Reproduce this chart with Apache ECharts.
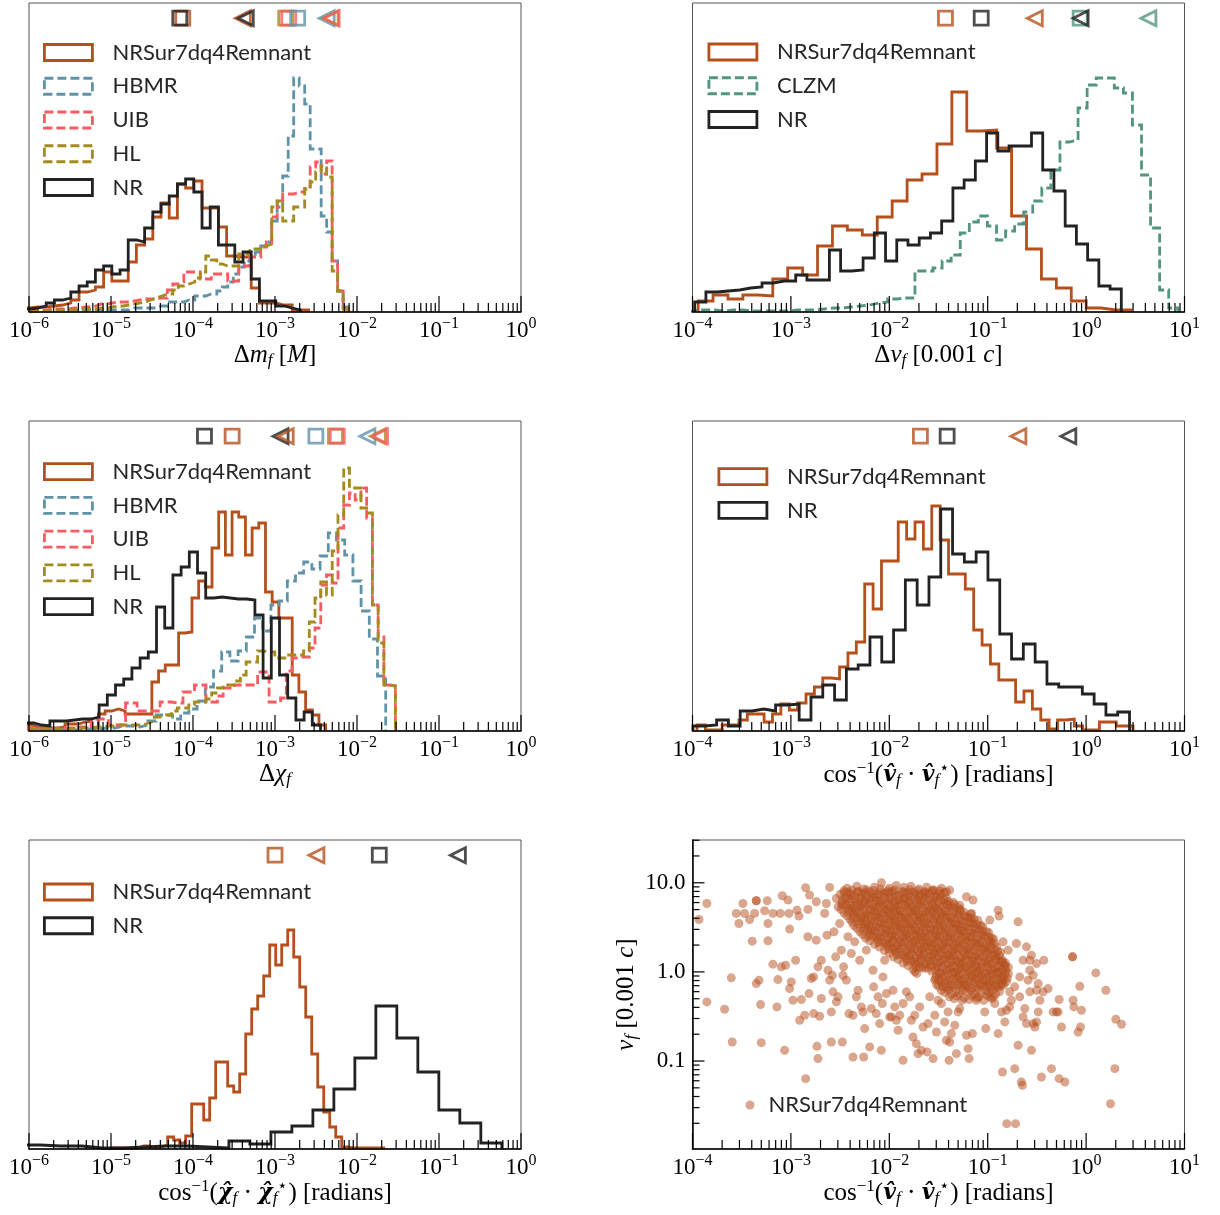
<!DOCTYPE html>
<html>
<head>
<meta charset="utf-8">
<script src="https://cdn.jsdelivr.net/npm/echarts@6.0.0/dist/echarts.min.js"></script>
<style>html,body{margin:0;padding:0;background:#fff;}#chart{width:1220px;height:1215px;}</style>
</head>
<body>
<div id="chart"></div>
<script>
// ---------------- DATA ----------------
// Histograms: lo = log10 of first bin edge, w = log10 bin width, h = bin heights (arbitrary units)
// Panel 1: Δm_f
const mf_NRSur = {lo:-6.19, w:0.1, h:[4,4,5,5,6,7,9,12,20,22,25,40,31,31,50,67,73,95,109,94,128,124,131,104,104,85,56,55,55,24,9,9,7,7,2,2]};
const mf_NR    = {lo:-6.19, w:0.1, h:[3,3,4,6,9,12,14,20,26,30,42,46,38,42,72,70,84,100,108,116,128,133,120,84,105,67,67,50,60,33,11,11,6,4,2]};
const mf_HBMR  = {lo:-5.988, w:0.067, h:[1,1,1,1,1,1,1,1,1,1,2,2,2,2,2,2,2,2,4,4,4,4,4,6,6,10,10,10,12,12,16,16,18,18,21,25,30,38,45,51,55,60,66,70,91,105,136,176,234,226,208,163,163,96,80,51,21,5]};
const mf_UIB   = {lo:-5.988, w:0.067, h:[2,2,2,3,3,3,3,4,4,5,5,6,8,8,9,10,10,10,11,12,13,13,13,14,14,22,28,30,40,40,40,33,33,38,38,38,31,31,46,46,55,55,65,70,95,111,118,118,120,120,125,145,150,138,151,51,21,3]};
const mf_HL    = {lo:-5.988, w:0.067, h:[1,1,1,2,2,2,2,2,3,3,3,3,4,4,5,6,6,7,8,9,10,12,14,16,18,18,22,26,28,30,34,40,56,52,48,46,46,46,58,58,63,63,66,68,105,111,91,91,105,105,123,130,140,146,135,41,21,3]};
// Panel 2: Δv_f
const vf_NRSur = {lo:-3.943, w:0.1517, h:[11,17,13,17,16,33,44,37,66,86,82,77,95,111,132,138,168,220,181,182,164,96,63,33,24,11,4,2,2]};
const vf_NR    = {lo:-3.978, w:0.1141, h:[10,20,21,22,24,25,29,31,31,37,32,32,62,41,42,54,79,51,72,67,74,79,91,124,132,151,179,161,166,166,179,142,121,86,68,52,26,23]};
const vf_CLZM  = {lo:-4.042, w:0.0921, h:[2,2,2,1,2,2,1,1,1,1,1,2,2,2,3,4,4,5,6,7,9,10,13,14,14,41,41,44,51,57,79,90,96,86,72,81,88,100,111,124,142,170,172,204,227,234,234,224,219,187,137,84,22,4]};
// Panel 3: Δχ_f
const chi_NRSur = {lo:-6.05, w:0.0815, h:[6,4,3,3,3,4,7,7,9,10,3,17,20,22,20,17,17,17,17,49,60,66,66,98,99,133,150,144,183,219,176,219,214,176,203,208,139,129,113,113,56,39,21,16,6]};
const chi_NR    = {lo:-6.045, w:0.1, h:[8,6,5,10,10,11,12,12,14,26,36,46,52,63,73,79,124,103,156,164,179,158,133,134,133,132,132,131,116,53,113,56,33,11,19,6]};
const chi_HBMR  = {lo:-6.05, w:0.1, h:[3,2,2,2,1,1,1,2,2,3,3,5,5,4,6,10,16,16,12,18,22,30,44,60,79,70,80,94,113,100,126,130,150,158,169,162,175,198,191,176,150,120,92,55]};
const chi_UIB   = {lo:-6.012, w:0.07, h:[3,2,2,2,2,3,3,3,4,4,5,12,12,12,6,6,6,28,28,20,20,20,20,29,29,28,28,39,39,46,46,29,29,35,43,43,46,46,46,46,59,59,29,29,33,60,73,74,74,83,103,146,156,148,203,226,238,231,243,213,126,94,46,45]};
const chi_HL    = {lo:-6.012, w:0.07, h:[2,2,2,2,2,2,2,3,3,3,3,4,4,5,5,6,6,6,6,6,8,10,14,16,16,20,23,23,26,29,29,32,38,43,46,46,50,56,69,69,80,79,79,73,73,76,76,76,80,109,133,149,136,180,216,263,243,243,223,218,126,88,46,45]};
// Panel 4: kick direction error
const kd_NRSur = {lo:-3.954, w:0.0852, h:[6,1,1,6,6,11,17,17,9,17,27,21,28,37,44,53,52,64,78,89,147,122,170,170,209,192,209,182,225,191,157,157,142,101,86,67,51,51,29,40,22,11,2,11,12,5,1,1,9,9,5,5]};
const kd_NR    = {lo:-3.995, w:0.1199, h:[5,6,11,5,20,22,20,26,27,11,34,46,31,62,66,94,69,101,151,126,154,222,177,169,179,151,97,72,87,69,47,44,44,37,27,16,19]};
// Panel 5: spin direction error
const sd_NRSur = {lo:-5.041, w:0.0732, h:[1,1,1,1,1,3,3,1,2,4,12,9,6,13,45,45,29,51,87,87,63,57,75,115,140,153,173,204,184,204,219,192,162,132,95,62,37,22,12,2,1,1,1,1,1,1]};
const sd_NR    = {lo:-6.122, w:0.256, h:[4,3,3,1,1,2,3,3,2,1,8,5,17,23,39,60,91,143,111,77,39,26,6]};

// Summary markers (square = median, left triangle = upper percentile)
const mf_med  = {NRSur:7.5e-5, NR:6.9e-5, HL:1.35e-3, UIB:1.47e-3, HBMR:1.89e-3};
const mf_p95  = {NRSur:4.05e-4, NR:4.4e-4, HBMR:4.27e-3, HL:4.77e-3, UIB:4.9e-3};
const vf_med  = {NRSur:0.0372, NR:0.0859, CLZM:0.87};
const vf_p95  = {NRSur:0.301, CLZM:4.3, NR:0.88};
const chi_med = {NR:1.38e-4, NRSur:3.0e-4, HBMR:3.15e-3, HL:5.46e-3, UIB:5.75e-3};
const chi_p95 = {NR:1.17e-3, NRSur:1.35e-3, HBMR:0.0134, HL:0.018, UIB:0.0191};
const kd_med  = {NRSur:0.0207, NR:0.0387};
const kd_p95  = {NRSur:0.205, NR:0.66};
const sd_med  = {NRSur:1.0e-3, NR:0.0187};
const sd_p95  = {NRSur:3.2e-3, NR:0.17};

// Scatter: [log10 kick-direction error (rad), log10 v_f (0.001 c)]
const kickScatterLog10 = [
[-3.935,0.588],[-3.854,0.768],[-3.854,-0.337],[-3.674,-0.419],[-3.606,-0.067],[-3.596,-0.786],[-3.555,0.656],[-3.528,0.543],[-3.488,0.768],[-3.471,0.656],
[-3.420,0.588],[-3.393,0.345],[-3.369,0.656],[-3.352,0.798],[-3.352,0.798],[-3.352,-0.131],[-3.325,-0.093],[-3.308,-0.367],[-3.301,-0.794],[-3.267,0.686],
[-3.240,0.798],[-3.233,0.543],[-3.233,0.349],[-3.183,0.087],[-3.183,0.656],[-3.142,-0.393],[-3.132,-0.086],[-3.108,0.656],[-3.098,0.057],[-3.088,0.854],
[-3.064,-0.880],[-3.054,0.075],[-3.030,0.806],[-3.020,0.656],[-3.013,0.480],[-3.013,-0.187],[-2.996,-0.112],[-2.979,-0.318],[-2.952,0.131],[-2.938,0.693],
[-2.918,0.626],[-2.911,-0.543],[-2.894,-0.310],[-2.860,-0.486],[-2.850,0.944],[-2.850,-1.198],[-2.827,0.701],[-2.827,0.394],[-2.816,-0.243],[-2.810,0.862],
[-2.793,-0.074],[-2.769,-0.056],[-2.769,-0.468],[-2.742,0.787],[-2.742,0.356],[-2.735,-0.835],[-2.725,-0.973],[-2.725,0.057],[-2.708,-0.498],[-2.691,-0.299],
[-2.691,0.131],[-2.657,0.656],[-2.640,0.768],[-2.633,0.412],[-2.623,0.019],[-2.606,0.948],[-2.606,-0.093],[-2.589,-0.786],[-2.589,-0.449],[-2.579,-0.037],
[-2.572,-0.224],[-2.562,0.450],[-2.545,0.169],[-2.538,0.824],[-2.538,-0.337],[-2.521,-0.280],[-2.505,0.543],[-2.488,0.244],[-2.477,-0.786],[-2.471,-0.037],
[-2.464,0.057],[-2.437,-0.093],[-2.420,0.394],[-2.410,-0.468],[-2.386,0.206],[-2.369,-0.955],[-2.369,-0.486],[-2.352,0.337],[-2.335,-0.280],[-2.318,-0.206],
[-2.301,0.131],[-2.284,-0.393],[-2.267,-0.449],[-2.260,-0.955],[-2.250,-0.636],[-2.233,0.244],[-2.199,-0.842],[-2.182,-0.412],[-2.166,0.019],[-2.159,-0.168],
[-2.132,-0.468],[-2.115,-0.280],[-2.098,-0.580],[-2.081,-0.880],[-2.071,-0.355],[-2.064,-0.056],[-2.047,0.131],[-2.030,-0.243],[-1.996,-0.505],[-1.979,-0.505],
[-1.962,-0.206],[-1.945,-0.393],[-1.928,-0.543],[-1.911,-0.655],[-1.894,-0.486],[-1.860,-0.992],[-1.860,-0.355],[-1.827,-0.224],[-1.793,-0.280],[-1.776,-0.543],
[-1.759,-0.730],[-1.742,-0.486],[-1.725,-0.805],[-1.708,-0.917],[-1.691,-0.393],[-1.674,-0.880],[-1.657,-0.618],[-1.616,-0.898],[-1.606,-0.580],[-1.589,-0.280],
[-1.555,-0.973],[-1.538,-0.486],[-1.521,-0.674],[-1.504,-0.318],[-1.471,-0.355],[-1.437,-0.561],[-1.420,-0.767],[-1.403,-0.449],[-1.393,-0.992],[-1.386,-0.786],
[-1.369,-0.692],[-1.335,-0.599],[-1.318,-0.917],[-1.301,-0.449],[-1.284,-0.412],[-1.216,-0.711],[-1.199,-0.861],[-1.189,-0.973],[-1.155,-0.692],[-1.115,-0.318],
[-1.030,-0.449],[-1.020,-0.636],[-0.979,-0.280],[-0.928,-0.355],[-0.894,-0.692],[-0.860,-0.449],[-0.850,-1.123],[-0.826,-0.561],[-0.810,-0.430],[-0.776,-0.224],
[-0.759,-0.318],[-0.725,-1.086],[-0.691,-0.823],[-0.691,0.562],[-0.674,-0.280],[-0.657,-1.235],[-0.647,-1.273],[-0.640,-0.505],[-0.623,-0.412],[-0.606,-0.580],
[-0.572,-0.224],[-0.555,-0.880],[-0.538,-0.580],[-0.521,-0.618],[-0.504,-0.561],[-0.487,-0.449],[-0.470,-0.318],[-0.454,-1.179],[-0.437,-0.224],[-0.430,0.131],
[-0.386,-0.187],[-0.352,-1.086],[-0.335,-0.449],[-0.301,-0.449],[-0.284,-0.449],[-0.274,-0.310],[-0.274,-1.198],[-0.250,-0.618],[-0.216,-1.235],[-0.138,0.169],
[-0.138,0.169],[-0.132,-0.318],[-0.125,-0.393],[-0.081,-0.674],[-0.064,-0.161],[-0.057,-0.618],[-0.047,-0.430],[0.099,-0.011],[0.201,-0.206],[0.292,-1.086],
[0.302,-0.531],[0.360,-0.587],[-0.806,-1.703],[-0.717,-1.703],[0.248,-1.479],
[-1.149,0.806],[-1.165,0.656],[-0.979,0.581],[-0.894,0.693],[-0.884,0.626],[-1.420,0.899],[-1.386,0.918],[-1.216,0.843],[-1.284,0.749],[-0.843,0.337],
[-0.793,0.244],[-0.606,0.281],[-0.572,0.131],[-0.555,0.188],[-0.504,0.094],[-0.572,0.019],[-0.538,-0.037],[-0.487,-0.131],[-0.674,-0.056],[-0.725,-0.168],
[-0.708,0.319],[-0.640,0.131],[-0.589,-0.093],[-0.504,-0.206],[-0.776,-0.393],
[-2.43,0.94],[-2.33,0.96],[-2.26,0.93],[-2.15,0.95],[-2.08,1.00],[-2.00,0.94],[-1.93,0.97],[-1.85,0.95],[-1.78,0.96],[-1.70,0.93],[-1.62,0.95],[-1.55,0.92],[-1.47,0.94],
[-2.50,0.87],[-2.42,0.89],[-2.36,0.86],[-2.28,0.88],[-2.20,0.90],[-2.12,0.87],[-2.05,0.88],[-1.97,0.90],[-1.90,0.86],[-1.83,0.88],[-1.75,0.89],[-1.68,0.87],[-1.60,0.88],[-1.52,0.86],[-1.44,0.89],
[-2.48,0.80],[-2.40,0.82],[-2.31,0.79],[-2.24,0.81],[-2.17,0.83],[-2.09,0.80],[-2.01,0.81],[-1.94,0.79],[-1.86,0.82],[-1.79,0.80],[-1.71,0.81],[-1.64,0.83],[-1.56,0.80],[-1.48,0.81],[-1.40,0.79],
[-2.52,0.73],[-2.44,0.75],[-2.37,0.72],[-2.29,0.74],[-2.21,0.76],[-2.13,0.73],[-2.06,0.74],[-1.99,0.72],[-1.91,0.75],[-1.83,0.74],[-1.76,0.73],[-1.68,0.75],[-1.60,0.74],[-1.53,0.72],[-1.45,0.75],[-1.37,0.74],[-1.30,0.72],
[-2.46,0.66],[-2.38,0.68],[-2.30,0.67],[-2.23,0.65],[-2.15,0.68],[-2.08,0.66],[-2.00,0.67],[-1.92,0.69],[-1.85,0.66],[-1.77,0.67],[-1.70,0.65],[-1.62,0.68],[-1.55,0.67],[-1.47,0.66],[-1.39,0.68],[-1.31,0.66],[-1.24,0.67],
[-2.40,0.59],[-2.33,0.61],[-2.25,0.60],[-2.18,0.58],[-2.10,0.61],[-2.02,0.60],[-1.95,0.59],[-1.88,0.61],[-1.80,0.60],[-1.72,0.58],[-1.65,0.61],[-1.57,0.60],[-1.49,0.59],[-1.42,0.61],[-1.34,0.60],[-1.27,0.58],[-1.19,0.61],[-1.14,0.59],
[-2.36,0.52],[-2.27,0.54],[-2.20,0.53],[-2.13,0.51],[-2.05,0.54],[-1.97,0.53],[-1.90,0.52],[-1.83,0.54],[-1.75,0.53],[-1.67,0.51],[-1.60,0.54],[-1.52,0.53],[-1.45,0.52],[-1.37,0.54],[-1.29,0.53],[-1.22,0.51],[-1.14,0.54],[-1.07,0.52],
[-2.30,0.45],[-2.22,0.47],[-2.15,0.46],[-2.07,0.44],[-1.99,0.47],[-1.92,0.46],[-1.84,0.45],[-1.77,0.47],[-1.69,0.46],[-1.62,0.44],[-1.54,0.47],[-1.47,0.46],[-1.39,0.45],[-1.31,0.47],[-1.24,0.46],[-1.16,0.44],[-1.09,0.47],[-1.01,0.45],
[-2.24,0.38],[-2.17,0.40],[-2.09,0.39],[-2.01,0.37],[-1.94,0.40],[-1.86,0.39],[-1.79,0.38],[-1.71,0.40],[-1.64,0.39],[-1.56,0.37],[-1.49,0.40],[-1.41,0.39],[-1.34,0.38],[-1.26,0.40],[-1.18,0.39],[-1.11,0.37],[-1.03,0.40],[-0.96,0.38],
[-2.15,0.31],[-2.07,0.33],[-1.99,0.32],[-1.92,0.30],[-1.84,0.33],[-1.76,0.32],[-1.69,0.31],[-1.61,0.33],[-1.54,0.32],[-1.46,0.30],[-1.39,0.33],[-1.31,0.32],[-1.24,0.31],[-1.16,0.33],[-1.08,0.32],[-1.01,0.30],[-0.93,0.32],
[-2.05,0.24],[-1.97,0.26],[-1.90,0.25],[-1.82,0.23],[-1.74,0.26],[-1.67,0.25],[-1.59,0.24],[-1.52,0.26],[-1.44,0.25],[-1.36,0.23],[-1.29,0.26],[-1.21,0.25],[-1.14,0.24],[-1.06,0.26],[-0.98,0.25],[-0.90,0.23],
[-1.96,0.17],[-1.88,0.19],[-1.80,0.18],[-1.73,0.16],[-1.65,0.19],[-1.57,0.18],[-1.50,0.17],[-1.42,0.19],[-1.35,0.18],[-1.27,0.16],[-1.19,0.19],[-1.12,0.18],[-1.04,0.17],[-0.96,0.19],[-0.88,0.18],
[-1.86,0.10],[-1.78,0.12],[-1.70,0.11],[-1.63,0.09],[-1.55,0.12],[-1.48,0.11],[-1.40,0.10],[-1.32,0.12],[-1.25,0.11],[-1.17,0.09],[-1.10,0.12],[-1.02,0.11],[-0.95,0.10],[-0.87,0.12],[-0.82,0.10],
[-1.76,0.03],[-1.69,0.05],[-1.61,0.04],[-1.53,0.02],[-1.46,0.05],[-1.38,0.04],[-1.30,0.03],[-1.23,0.05],[-1.15,0.04],[-1.08,0.02],[-1.00,0.05],[-0.93,0.04],[-0.85,0.03],[-0.79,0.05],
[-1.72,-0.02],[-1.52,-0.04],[-1.44,-0.03],[-1.36,-0.01],[-1.29,-0.04],[-1.21,-0.03],[-1.13,-0.02],[-1.06,-0.04],[-0.98,-0.03],[-0.91,-0.01],[-0.84,-0.04],[-0.79,-0.02],
[-1.54,-0.09],[-1.47,-0.11],[-1.39,-0.10],[-1.31,-0.08],[-1.24,-0.11],[-1.16,-0.10],[-1.09,-0.09],[-1.01,-0.11],[-0.94,-0.10],[-0.86,-0.08],[-0.81,-0.11],
[-1.50,-0.16],[-1.42,-0.18],[-1.35,-0.17],[-1.27,-0.15],[-1.20,-0.18],[-1.12,-0.17],[-1.04,-0.16],[-0.97,-0.18],[-0.89,-0.17],[-0.84,-0.15],
[-1.44,-0.23],[-1.37,-0.25],[-1.29,-0.24],[-1.22,-0.22],[-1.14,-0.25],[-1.07,-0.24],[-0.99,-0.23],[-0.92,-0.25],
[-1.34,-0.30],[-1.26,-0.32],[-1.19,-0.31],[-1.11,-0.29],[-1.04,-0.32],[-0.96,-0.30],
[-2.46,0.91],[-2.38,0.92],[-2.31,0.90],[-2.23,0.92],[-2.16,0.91],[-2.09,0.93],[-2.01,0.91],[-1.94,0.92],[-1.86,0.90],[-1.79,0.92],[-1.71,0.91],[-1.64,0.90],[-1.56,0.92],[-1.49,0.91],
[-2.45,0.84],[-2.38,0.85],[-2.30,0.83],[-2.23,0.85],[-2.15,0.84],[-2.08,0.86],[-2.00,0.84],[-1.93,0.85],[-1.85,0.83],[-1.78,0.85],[-1.70,0.84],[-1.63,0.86],[-1.55,0.84],[-1.48,0.85],[-1.42,0.83],
[-2.48,0.77],[-2.40,0.78],[-2.33,0.76],[-2.25,0.78],[-2.18,0.77],[-2.10,0.79],[-2.03,0.77],[-1.95,0.78],[-1.88,0.76],[-1.80,0.78],[-1.72,0.77],[-1.65,0.79],[-1.57,0.77],[-1.50,0.78],[-1.42,0.76],[-1.35,0.78],
[-2.49,0.70],[-2.41,0.71],[-2.34,0.69],[-2.26,0.71],[-2.19,0.70],[-2.11,0.72],[-2.04,0.70],[-1.96,0.71],[-1.89,0.69],[-1.81,0.71],[-1.73,0.70],[-1.66,0.72],[-1.58,0.70],[-1.51,0.71],[-1.43,0.69],[-1.35,0.71],[-1.28,0.70],
[-2.43,0.63],[-2.36,0.64],[-2.28,0.62],[-2.21,0.64],[-2.13,0.63],[-2.06,0.65],[-1.98,0.63],[-1.91,0.64],[-1.83,0.62],[-1.76,0.64],[-1.68,0.63],[-1.61,0.65],[-1.53,0.63],[-1.46,0.64],[-1.38,0.62],[-1.30,0.64],[-1.23,0.63],[-1.17,0.65],
[-2.38,0.56],[-2.30,0.57],[-2.23,0.55],[-2.15,0.57],[-2.08,0.56],[-2.00,0.58],[-1.93,0.56],[-1.85,0.57],[-1.78,0.55],[-1.70,0.57],[-1.63,0.56],[-1.55,0.58],[-1.48,0.56],[-1.40,0.57],[-1.33,0.55],[-1.25,0.57],[-1.18,0.56],[-1.10,0.58],
[-2.33,0.49],[-2.25,0.50],[-2.18,0.48],[-2.10,0.50],[-2.03,0.49],[-1.95,0.51],[-1.88,0.49],[-1.80,0.50],[-1.73,0.48],[-1.65,0.50],[-1.58,0.49],[-1.50,0.51],[-1.43,0.49],[-1.35,0.50],[-1.28,0.48],[-1.20,0.50],[-1.12,0.49],[-1.05,0.51],
[-2.27,0.42],[-2.19,0.43],[-2.12,0.41],[-2.04,0.43],[-1.97,0.42],[-1.89,0.44],[-1.82,0.42],[-1.74,0.43],[-1.67,0.41],[-1.59,0.43],[-1.52,0.42],[-1.44,0.44],[-1.37,0.42],[-1.29,0.43],[-1.22,0.41],[-1.14,0.43],[-1.06,0.42],[-0.99,0.44],
[-2.20,0.35],[-2.12,0.36],[-2.05,0.34],[-1.97,0.36],[-1.90,0.35],[-1.82,0.37],[-1.75,0.35],[-1.67,0.36],[-1.60,0.34],[-1.52,0.36],[-1.45,0.35],[-1.37,0.37],[-1.30,0.35],[-1.22,0.36],[-1.14,0.34],[-1.07,0.36],[-0.99,0.35],[-0.94,0.37],
[-2.10,0.28],[-2.02,0.29],[-1.95,0.27],[-1.87,0.29],[-1.80,0.28],[-1.72,0.30],[-1.65,0.28],[-1.57,0.29],[-1.50,0.27],[-1.42,0.29],[-1.35,0.28],[-1.27,0.30],[-1.20,0.28],[-1.12,0.29],[-1.04,0.27],[-0.97,0.29],[-0.91,0.28],
[-2.00,0.21],[-1.93,0.22],[-1.85,0.20],[-1.78,0.22],[-1.70,0.21],[-1.63,0.23],[-1.55,0.21],[-1.48,0.22],[-1.40,0.20],[-1.33,0.22],[-1.25,0.21],[-1.18,0.23],[-1.10,0.21],[-1.02,0.22],[-0.94,0.20],[-0.87,0.22],
[-1.91,0.14],[-1.83,0.15],[-1.76,0.13],[-1.68,0.15],[-1.61,0.14],[-1.53,0.16],[-1.46,0.14],[-1.38,0.15],[-1.31,0.13],[-1.23,0.15],[-1.16,0.14],[-1.08,0.16],[-1.00,0.14],[-0.92,0.15],[-0.85,0.13],
[-1.81,0.07],[-1.73,0.08],[-1.66,0.06],[-1.58,0.08],[-1.51,0.07],[-1.43,0.09],[-1.36,0.07],[-1.28,0.08],[-1.21,0.06],[-1.13,0.08],[-1.06,0.07],[-0.98,0.09],[-0.90,0.07],[-0.83,0.08],
[-1.74,0.00],[-1.57,0.01],[-1.49,-0.01],[-1.42,0.01],[-1.34,0.00],[-1.27,0.02],[-1.19,0.00],[-1.11,0.01],[-1.04,-0.01],[-0.96,0.01],[-0.89,0.00],[-0.82,0.02],
[-1.53,-0.07],[-1.46,-0.06],[-1.38,-0.08],[-1.31,-0.06],[-1.23,-0.07],[-1.16,-0.05],[-1.08,-0.07],[-1.01,-0.06],[-0.93,-0.08],[-0.86,-0.06],[-0.80,-0.07],
[-1.52,-0.14],[-1.44,-0.13],[-1.37,-0.15],[-1.29,-0.13],[-1.22,-0.14],[-1.14,-0.12],[-1.07,-0.14],[-0.99,-0.13],[-0.92,-0.15],[-0.85,-0.13],
[-1.47,-0.21],[-1.40,-0.20],[-1.32,-0.22],[-1.25,-0.20],[-1.17,-0.21],[-1.10,-0.19],[-1.02,-0.21],[-0.95,-0.20],[-0.88,-0.22],
[-1.39,-0.28],[-1.31,-0.27],[-1.24,-0.29],[-1.16,-0.27],[-1.09,-0.28],[-1.01,-0.26],[-0.94,-0.28],
[-2.46,0.89],[-2.39,0.88],[-2.32,0.90],[-2.24,0.89],[-2.16,0.87],[-2.08,0.90],[-2.01,0.89],[-1.94,0.88],[-1.86,0.90],[-1.79,0.89],[-1.72,0.87],[-1.64,0.89],[-1.56,0.90],[-1.48,0.88],
[-2.44,0.82],[-2.35,0.81],[-2.28,0.83],[-2.20,0.82],[-2.13,0.80],[-2.05,0.83],[-1.98,0.82],[-1.90,0.81],[-1.83,0.83],[-1.75,0.82],[-1.68,0.80],[-1.60,0.82],[-1.52,0.83],[-1.44,0.81],
[-2.48,0.75],[-2.40,0.74],[-2.33,0.76],[-2.25,0.75],[-2.17,0.73],[-2.10,0.76],[-2.02,0.75],[-1.95,0.74],[-1.87,0.76],[-1.80,0.75],[-1.72,0.73],[-1.64,0.75],[-1.56,0.76],[-1.49,0.74],[-1.41,0.75],[-1.34,0.76],
[-2.42,0.68],[-2.34,0.67],[-2.27,0.69],[-2.19,0.68],[-2.12,0.66],[-2.04,0.69],[-1.96,0.68],[-1.89,0.67],[-1.81,0.69],[-1.74,0.68],[-1.66,0.66],[-1.59,0.68],[-1.51,0.69],[-1.43,0.67],[-1.35,0.68],[-1.28,0.69],
[-2.37,0.61],[-2.29,0.60],[-2.22,0.62],[-2.14,0.61],[-2.06,0.59],[-1.99,0.62],[-1.92,0.61],[-1.84,0.60],[-1.76,0.62],[-1.69,0.61],[-1.61,0.59],[-1.53,0.61],[-1.46,0.62],[-1.38,0.60],[-1.31,0.61],[-1.23,0.62],[-1.17,0.60],
[-2.32,0.54],[-2.24,0.53],[-2.17,0.55],[-2.09,0.54],[-2.01,0.52],[-1.94,0.55],[-1.87,0.54],[-1.79,0.53],[-1.71,0.55],[-1.64,0.54],[-1.56,0.52],[-1.49,0.54],[-1.41,0.55],[-1.33,0.53],[-1.26,0.54],[-1.18,0.55],[-1.11,0.53],
[-2.26,0.47],[-2.19,0.46],[-2.11,0.48],[-2.03,0.47],[-1.96,0.45],[-1.88,0.48],[-1.81,0.47],[-1.73,0.46],[-1.66,0.48],[-1.58,0.47],[-1.51,0.45],[-1.43,0.47],[-1.35,0.48],[-1.28,0.46],[-1.20,0.47],[-1.13,0.48],[-1.05,0.46],
[-2.21,0.40],[-2.13,0.39],[-2.05,0.41],[-1.98,0.40],[-1.90,0.38],[-1.83,0.41],[-1.75,0.40],[-1.68,0.39],[-1.60,0.41],[-1.53,0.40],[-1.45,0.38],[-1.38,0.40],[-1.30,0.41],[-1.22,0.39],[-1.15,0.40],[-1.07,0.41],[-0.99,0.39],
[-2.11,0.33],[-2.03,0.32],[-1.96,0.34],[-1.88,0.33],[-1.80,0.31],[-1.73,0.34],[-1.65,0.33],[-1.58,0.32],[-1.50,0.34],[-1.43,0.33],[-1.35,0.31],[-1.28,0.33],[-1.20,0.34],[-1.12,0.32],[-1.05,0.33],[-0.97,0.34],
[-2.01,0.26],[-1.94,0.25],[-1.86,0.27],[-1.78,0.26],[-1.71,0.24],[-1.63,0.27],[-1.56,0.26],[-1.48,0.25],[-1.40,0.27],[-1.33,0.26],[-1.25,0.24],[-1.18,0.26],[-1.10,0.27],[-1.02,0.25],[-0.94,0.26],
[-1.92,0.19],[-1.84,0.18],[-1.77,0.20],[-1.69,0.19],[-1.61,0.17],[-1.54,0.20],[-1.46,0.19],[-1.39,0.18],[-1.31,0.20],[-1.23,0.19],[-1.16,0.17],[-1.08,0.19],[-1.00,0.20],[-0.92,0.18],
[-1.82,0.12],[-1.74,0.11],[-1.67,0.13],[-1.59,0.12],[-1.52,0.10],[-1.44,0.13],[-1.36,0.12],[-1.29,0.11],[-1.21,0.13],[-1.14,0.12],[-1.06,0.10],[-0.99,0.12],[-0.91,0.13],[-0.85,0.11],
[-1.73,0.05],[-1.65,0.04],[-1.57,0.06],[-1.50,0.05],[-1.42,0.03],[-1.34,0.06],[-1.27,0.05],[-1.19,0.04],[-1.12,0.06],[-1.04,0.05],[-0.97,0.03],[-0.89,0.05],[-0.82,0.06],
[-1.48,-0.02],[-1.40,-0.03],[-1.33,-0.01],[-1.25,-0.02],[-1.17,-0.04],[-1.10,-0.01],[-1.02,-0.02],[-0.95,-0.03],[-0.88,-0.01],[-0.82,-0.02],
[-1.50,-0.09],[-1.43,-0.10],[-1.35,-0.08],[-1.28,-0.09],[-1.20,-0.11],[-1.13,-0.08],[-1.05,-0.09],[-0.98,-0.10],[-0.90,-0.08],[-0.84,-0.09],
[-1.46,-0.16],[-1.39,-0.17],[-1.31,-0.15],[-1.24,-0.16],[-1.16,-0.18],[-1.08,-0.15],[-1.01,-0.16],[-0.93,-0.17],[-0.87,-0.15]
];

// ---------------- STYLE ----------------
const COL = {NRSur:'#B5501D', HBMR:'#6193A8', UIB:'#FA5A62', HL:'#A38B1E', CLZM:'#519581', NR:'#222222'};
const DASHED = {HBMR:true, UIB:true, HL:true, CLZM:true};
const NAMES = {NRSur:'NRSur7dq4Remnant', HBMR:'HBMR', UIB:'UIB', HL:'HL', CLZM:'CLZM', NR:'NR'};
const SERIF = "'Liberation Serif','DejaVu Serif',serif";
const SANS = "Lato,'Open Sans','DejaVu Sans',sans-serif";
const DASH = [9, 4];
const LW = 2.8;

const LABEL_RICH = {
  b:{fontFamily:SERIF, fontSize:23, color:'#000'},
  e:{fontFamily:SERIF, fontSize:16, color:'#000', padding:[0,0,13,0]}
};
const NAME_RICH = {
  n:{fontFamily:SERIF, fontSize:25, color:'#000'},
  i:{fontFamily:SERIF, fontSize:25, fontStyle:'italic', color:'#000'},
  s:{fontFamily:SERIF, fontSize:17, fontStyle:'italic', color:'#000', padding:[11,0,0,0]},
  e:{fontFamily:SERIF, fontSize:17, color:'#000', padding:[0,0,13,0]},
  b:{fontFamily:'DejaVu Serif', fontSize:22, fontStyle:'italic', fontWeight:'bold', color:'#000'}
};
const NAME_KICK = '{n|cos}{e|\u22121}{n|(}{b|v\u0302}{s|f}{n| \u22c5 }{b|v\u0302}{s|f}{e|\u22c6}{n|) [radians]}';

const GRIDS = [
  {left:29, top:3, width:492, height:309},
  {left:692.5, top:3, width:492, height:309},
  {left:29, top:421, width:492, height:310},
  {left:692.5, top:421, width:492, height:310},
  {left:29, top:840, width:492, height:309},
  {left:692.5, top:840, width:492, height:309}
];

const PANELS = [
  {xmin:1e-6, xmax:1, hists:[['NRSur',mf_NRSur],['HBMR',mf_HBMR],['UIB',mf_UIB],['HL',mf_HL],['NR',mf_NR]], med:mf_med, p95:mf_p95,
   leg:{left:43, top:41.5}, name:'{n|\u0394}{i|m}{s|f}{n| [}{i|M}{n|]}'},
  {xmin:1e-4, xmax:10, hists:[['NRSur',vf_NRSur],['CLZM',vf_CLZM],['NR',vf_NR]], med:vf_med, p95:vf_p95,
   leg:{left:707.5, top:41}, name:'{n|\u0394}{i|v}{s|f}{n| [0.001 }{i|c}{n|]}'},
  {xmin:1e-6, xmax:1, hists:[['NRSur',chi_NRSur],['HBMR',chi_HBMR],['UIB',chi_UIB],['HL',chi_HL],['NR',chi_NR]], med:chi_med, p95:chi_p95,
   leg:{left:43, top:460.7}, name:'{n|\u0394}{i|\u03c7}{s|f}'},
  {xmin:1e-4, xmax:10, hists:[['NRSur',kd_NRSur],['NR',kd_NR]], med:kd_med, p95:kd_p95,
   leg:{left:717.5, top:465.7}, name:NAME_KICK},
  {xmin:1e-6, xmax:1, hists:[['NRSur',sd_NRSur],['NR',sd_NR]], med:sd_med, p95:sd_p95,
   leg:{left:43, top:881}, name:'{n|cos}{e|\u22121}{n|(}{b|\u03c7\u0302}{s|f}{n| \u22c5 }{b|\u03c7\u0302}{s|f}{e|\u22c6}{n|) [radians]}'},
  {xmin:1e-4, xmax:10, ymin:0.0103, ymax:30.2, scatter:true, leg:{left:745.5, top:1094}, name:NAME_KICK}
];

// ---------------- BUILD ----------------
const powLabel = v => { const e = Math.round(Math.log10(v)); return '{b|10}{e|' + (e < 0 ? '\u2212' : '') + Math.abs(e) + '}'; };

function stepData(hg) {
  const d = [[Math.pow(10, hg.lo), 0]];
  hg.h.forEach((v, i) => d.push([Math.pow(10, hg.lo + i * hg.w), v]));
  d.push([Math.pow(10, hg.lo + hg.h.length * hg.w), 0]);
  return d;
}

function logTicks(min, max) {
  const out = [];
  for (let k = Math.floor(Math.log10(min)) - 1; k <= Math.ceil(Math.log10(max)); k++) {
    for (let m = 1; m <= 9; m++) {
      const v = m * Math.pow(10, k);
      if (v >= min * 0.9999 && v <= max * 1.0001) out.push({v, major: m === 1});
    }
  }
  return out;
}

function tickSeries(i, items) {
  return {
    type:'custom', xAxisIndex:i, yAxisIndex:i, silent:true, clip:false, z:6, animation:false,
    data: items,
    renderItem: (params, api) => {
      const p = api.coord([api.value(0), api.value(1)]);
      const len = api.value(2), dir = api.value(3);
      const shape = dir === 0 ? {x1:p[0], y1:p[1], x2:p[0], y2:p[1] - len} : {x1:p[0], y1:p[1], x2:p[0] + len, y2:p[1]};
      return {type:'line', shape, style:{stroke:'#000', lineWidth:1.2}};
    }
  };
}

const option = {animation:false, backgroundColor:'#fff', grid:[], xAxis:[], yAxis:[], legend:[], series:[]};

PANELS.forEach((p, i) => {
  const g = GRIDS[i];
  option.grid.push(Object.assign({show:true, borderColor:'#555', borderWidth:1, containLabel:false, outerBoundsMode:'none', backgroundColor:'transparent'}, g));
  option.xAxis.push({
    type:'log', logBase:10, gridIndex:i, min:p.xmin, max:p.xmax, z:3,
    axisLine:{show:true, onZero:false, lineStyle:{color:'#000', width:1.5}},
    axisTick:{show:false}, minorTick:{show:false}, splitLine:{show:false}, minorSplitLine:{show:false},
    axisLabel:{show:true, margin:4, hideOverlap:false, fontFamily:SERIF, fontSize:23, color:'#000', formatter:powLabel, rich:LABEL_RICH},
    name:p.name, nameLocation:'middle', nameGap:29, nameMoveOverlap:false,
    nameTextStyle:{fontFamily:SERIF, fontSize:25, color:'#000', rich:NAME_RICH}
  });
  const ticks = [];
  if (!p.scatter) {
    const H = g.height;
    option.yAxis.push({type:'value', gridIndex:i, min:0, max:H, show:false});
    logTicks(p.xmin, p.xmax).forEach(t => ticks.push([t.v, 0, t.major ? 16 : 9, 0]));
    p.hists.forEach(([k, hg]) => {
      option.series.push({
        type:'line', name:NAMES[k], xAxisIndex:i, yAxisIndex:i, data:stepData(hg), step:'end',
        symbol:'none', showSymbol:false, silent:true, clip:true, z:2,
        lineStyle:{color:COL[k], width:LW, type: DASHED[k] ? DASH : 'solid', join:'miter', cap:'butt'},
        itemStyle:{color:COL[k]}, emphasis:{disabled:true}
      });
    });
    const lvl = H * 0.951;
    Object.keys(p.med).forEach(k => option.series.push({
      type:'scatter', name:'median ' + k, xAxisIndex:i, yAxisIndex:i, data:[[p.med[k], lvl]], symbol:'rect', symbolSize:14,
      silent:true, z:5, itemStyle:{color:'rgba(255,255,255,0)', borderColor:COL[k], borderWidth:LW}
    }));
    Object.keys(p.p95).forEach(k => option.series.push({
      type:'scatter', name:'upper ' + k, xAxisIndex:i, yAxisIndex:i, data:[[p.p95[k], lvl]], symbol:'triangle', symbolRotate:90, symbolSize:[15,15],
      silent:true, z:5, itemStyle:{color:'rgba(255,255,255,0)', borderColor:COL[k], borderWidth:LW, borderJoin:'miter'}
    }));
    option.legend.push({
      left:p.leg.left, top:p.leg.top, orient:'vertical', padding:0, itemWidth:48, itemHeight:16, itemGap:11.75, selectedMode:false,
      textStyle:{fontFamily:SANS, fontSize:22, color:'#262626', lineHeight:22, padding:[0,0,0,15]},
      data: p.hists.map(([k]) => ({name:NAMES[k], icon:'rect',
        itemStyle:{color:'rgba(255,255,255,0)', borderColor:COL[k], borderWidth:LW, borderType: DASHED[k] ? DASH : 'solid'}}))
    });
  } else {
    option.yAxis.push({
      type:'log', logBase:10, gridIndex:i, min:p.ymin, max:p.ymax, z:3,
      axisLine:{show:true, onZero:false, lineStyle:{color:'#000', width:1.5}},
      axisTick:{show:false}, minorTick:{show:false}, splitLine:{show:false},
      axisLabel:{margin:7, fontFamily:SERIF, fontSize:23, color:'#000', showMinLabel:false, showMaxLabel:false, hideOverlap:false,
        formatter: v => v.toFixed(1)},
      name:'{i|v}{s|f}{n| [0.001 }{i|c}{n|]}', nameLocation:'middle', nameGap:52, nameRotate:90, nameMoveOverlap:false,
      nameTextStyle:{fontFamily:SERIF, fontSize:25, color:'#000', rich:NAME_RICH}
    });
    logTicks(p.xmin, p.xmax).forEach(t => ticks.push([t.v, p.ymin, t.major ? 16 : 9, 0]));
    logTicks(p.ymin, p.ymax).forEach(t => ticks.push([p.xmin, t.v, t.major ? 12 : 7, 1]));
    option.series.push({
      type:'scatter', name:'NRSur7dq4Remnant', xAxisIndex:i, yAxisIndex:i, silent:true, z:2,
      data: kickScatterLog10.map(([a, b]) => [Math.pow(10, a), Math.pow(10, b)]),
      symbol:'circle', symbolSize:9, itemStyle:{color:COL.NRSur, opacity:0.5, borderWidth:0}
    });
    option.legend.push({
      left:p.leg.left, top:p.leg.top, orient:'vertical', padding:0, itemWidth:9, itemHeight:9, selectedMode:false,
      textStyle:{fontFamily:SANS, fontSize:22, color:'#262626', lineHeight:22, padding:[0,0,0,9]},
      data:[{name:'NRSur7dq4Remnant', icon:'circle', itemStyle:{color:'rgba(181,80,29,0.5)', borderWidth:0}}]
    });
  }
  option.series.push(tickSeries(i, ticks));
});

const chart = echarts.init(document.getElementById('chart'), null, {renderer:'canvas', devicePixelRatio:1, width:1220, height:1215});
chart.setOption(option);
</script>
</body>
</html>
